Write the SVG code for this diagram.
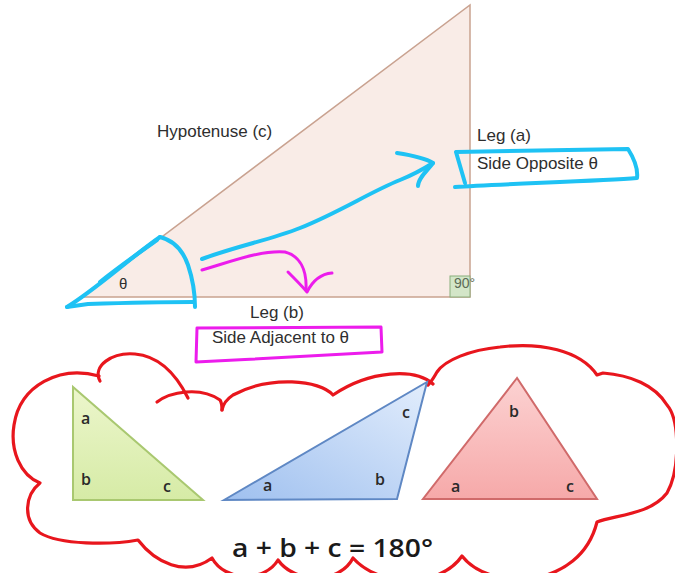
<svg xmlns="http://www.w3.org/2000/svg" width="675" height="573" viewBox="0 0 675 573">
<style>
.lbl{font-family:"Liberation Sans",Arial,sans-serif;font-size:17px;fill:#2e2e2e}
.sm{font-family:"Open Sans","Liberation Sans",sans-serif;font-size:16px;font-weight:600;fill:#2a2a2a}
.blue{fill:none;stroke:#1ec2f4;stroke-width:4;stroke-linecap:round;stroke-linejoin:round}
.mag{fill:none;stroke:#ec1cec;stroke-width:3;stroke-linecap:round;stroke-linejoin:round}
.red{fill:none;stroke:#e8161d;stroke-width:3.2;stroke-linecap:round;stroke-linejoin:round}
</style>
<defs>
<linearGradient id="gG" x1="0" y1="0" x2="0" y2="1"><stop offset="0" stop-color="#ecf6cc"/><stop offset="1" stop-color="#d6eba6"/></linearGradient>
<linearGradient id="gB" x1="0" y1="1" x2="1" y2="0"><stop offset="0" stop-color="#9fc0ef"/><stop offset="1" stop-color="#e2edfc"/></linearGradient>
<linearGradient id="gR" x1="0" y1="0" x2="0" y2="1"><stop offset="0" stop-color="#fcd2d2"/><stop offset="1" stop-color="#f6a9a9"/></linearGradient>
</defs>
<rect width="675" height="573" fill="#fff"/>

<g id="main-triangle">
<polygon points="82,297 470,5 470,297" fill="#f9ece7" stroke="#c9a290" stroke-width="1.5"/>
<rect x="450" y="276" width="20" height="21" fill="#d3e6c8" stroke="#8aae7c" stroke-width="1"/>
<text x="454" y="288" font-family="Liberation Sans,Arial,sans-serif" font-size="14" fill="#5c6b56">90°</text>
<text x="119" y="289" font-family="Liberation Sans,Arial,sans-serif" font-size="15" fill="#2e2e2e">θ</text>
</g>
<g id="label-hypotenuse"><text class="lbl" x="157" y="137">Hypotenuse (c)</text></g>
<g id="label-leg-a">
<text class="lbl" x="477" y="141">Leg (a)</text>
<text class="lbl" x="477" y="169">Side Opposite θ</text>
</g>
<g id="label-leg-b">
<text class="lbl" x="250" y="318">Leg (b)</text>
<text class="lbl" x="212" y="343">Side Adjacent to θ</text>
</g>

<g id="blue-annotations">
<path class="blue" d="M67 307 C95 290 130 258 160 237"/>
<path class="blue" d="M100 282 C120 266 140 252 157 240" stroke-width="5.5"/>
<path class="blue" d="M160 237 C172 240 182 248 188 265 C193 280 195 295 195 307"/>
<path class="blue" d="M67 307 L88 304 C120 303 160 302 193 302"/>
<path class="blue" d="M465 183 L456 152 L628 149 C635 160 638 170 637 178 C600 181 500 184 455 187"/>
</g>
<g id="magenta-annotations">
<path class="mag" d="M196 362 L197 328 L381 327 L382 352 C330 355 260 359 196 362"/>
</g>

<g id="connectors">
<path class="blue" d="M202 259 C240 245 270 240 300 228 C340 212 370 192 400 180 C415 174 425 168 433 163"/>
<path class="blue" d="M397 153 C410 155 425 158 433 163 C428 170 418 178 418 186"/>
<path class="mag" d="M202 270 C230 262 260 250 285 252 C300 256 307 270 306 290"/>
<path class="mag" d="M288 272 C296 280 302 286 307 292 C312 282 320 274 332 273"/>
</g>

<g id="cloud">
<path class="red" d="M100 381 C92 366 112 352 135 354 C158 356 175 372 188 398"/>
<path class="red" d="M99 376 C60 365 20 385 14 425 C10 450 20 475 40 483 C25 495 22 520 40 533 C60 545 110 545 138 540 C155 562 185 578 212 558 C225 582 265 582 278 560 C295 584 340 584 353 558 C380 588 440 588 462 556 C490 592 580 590 597 522 C615 515 650 515 667 493 C680 470 680 420 667 405 C655 385 630 375 603 373 L597 375 C580 350 540 342 500 347 C470 350 445 360 437 372 C434 377 432 381 428 385"/>
<path class="red" d="M433 384 C415 368 370 370 333 395 C320 380 270 375 233 395 C227 399 223 404 222 410"/>
<path class="red" d="M157 402 C170 392 200 386 220 400 C222 403 222 406 222 410"/>
</g>

<g id="tri-green">
<polygon points="73,387 73,500 203,500" fill="url(#gG)" stroke="#a9c870" stroke-width="2"/>
<text class="sm" x="81" y="424">a</text>
<text class="sm" x="81" y="485">b</text>
<text class="sm" x="163" y="492">c</text>
</g>
<g id="tri-blue">
<polygon points="224,500 427,382 397,499" fill="url(#gB)" stroke="#5f88c4" stroke-width="2"/>
<text class="sm" x="263" y="491">a</text>
<text class="sm" x="402" y="418">c</text>
<text class="sm" x="375" y="485">b</text>
</g>
<g id="tri-red">
<polygon points="517,378 423,499 597,499" fill="url(#gR)" stroke="#d06a6a" stroke-width="2"/>
<text class="sm" x="509" y="417">b</text>
<text class="sm" x="451" y="492">a</text>
<text class="sm" x="566" y="492">c</text>
</g>
<g id="equation">
<text x="232" y="557" font-family="Open Sans,Liberation Sans,sans-serif" font-size="25" font-weight="600" fill="#1a1a1a" textLength="201" lengthAdjust="spacingAndGlyphs">a + b + c = 180°</text>
</g>
</svg>
